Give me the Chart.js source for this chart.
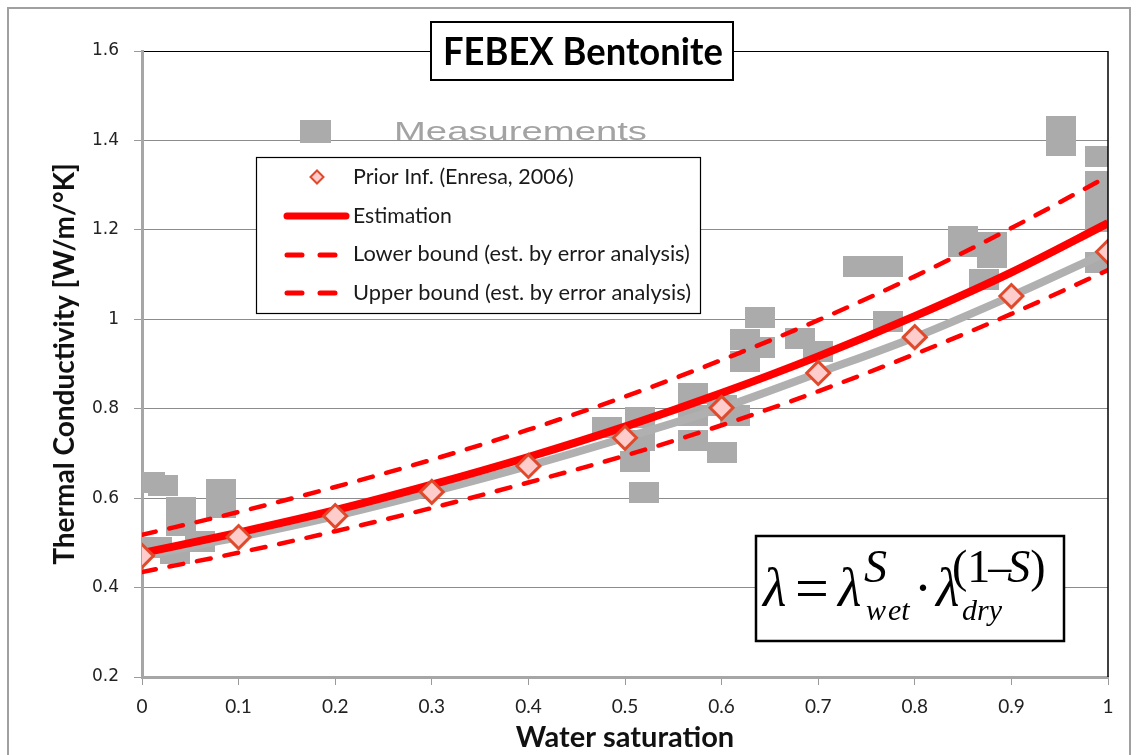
<!DOCTYPE html>
<html>
<head>
<meta charset="utf-8">
<script src="https://cdn.jsdelivr.net/npm/chart.js@4/dist/chart.umd.min.js"></script>
<style>
html, body { margin: 0; padding: 0; background: #fff; }
#wrap { width: 1136px; height: 755px; }
</style>
</head>
<body>
<div id="wrap"><canvas id="febexChart" width="1136" height="755"></canvas></div>
<script>
// water saturation S at which the curves are given
const saturation = [0, 0.1, 0.2, 0.3, 0.4, 0.5, 0.6, 0.7, 0.8, 0.9, 1];
// thermal conductivity curves [W/m/°K]
const priorK     = [0.471, 0.513, 0.560, 0.614, 0.672, 0.735, 0.802, 0.880, 0.960, 1.052, 1.151];
const estimatedK = [0.477, 0.523, 0.573, 0.630, 0.692, 0.760, 0.835, 0.917, 1.007, 1.105, 1.215];
const lowerK     = [0.435, 0.478, 0.526, 0.578, 0.635, 0.695, 0.763, 0.839, 0.922, 1.012, 1.110];
const upperK     = [0.518, 0.569, 0.625, 0.686, 0.753, 0.827, 0.909, 0.998, 1.096, 1.204, 1.320];

// measurements (grey squares)
const measS = [0.008, 0.022, 0.016, 0.034, 0.040, 0.040, 0.060, 0.082, 0.082,
               0.481, 0.516, 0.516, 0.510, 0.520, 0.570, 0.570, 0.570, 0.600, 0.600, 0.614,
               0.624, 0.624, 0.640, 0.640, 0.681, 0.700, 0.741, 0.772, 0.772,
               0.850, 0.850, 0.880, 0.880, 0.872, 0.951, 0.951, 0.992, 0.992, 0.992, 0.992, 0.992];
const measK = [0.636, 0.629, 0.489, 0.477, 0.578, 0.538, 0.504, 0.620, 0.580,
               0.757, 0.781, 0.730, 0.681, 0.612, 0.835, 0.784, 0.730, 0.701, 0.808, 0.784,
               0.954, 0.905, 1.003, 0.936, 0.956, 0.929, 1.119, 1.119, 0.994,
               1.186, 1.162, 1.171, 1.139, 1.090, 1.432, 1.388, 1.363, 1.309, 1.265, 1.218, 1.126];

const xTicks = [0, 0.1, 0.2, 0.3, 0.4, 0.5, 0.6, 0.7, 0.8, 0.9, 1];
const xTickLabels = ['0', '0.1', '0.2', '0.3', '0.4', '0.5', '0.6', '0.7', '0.8', '0.9', '1'];
const yTicks = [0.2, 0.4, 0.6, 0.8, 1, 1.2, 1.4, 1.6];
const yTickLabels = ['0.2', '0.4', '0.6', '0.8', '1', '1.2', '1.4', '1.6'];

const RED = '#ff0000';
const GREY = '#ababab';

function toXY(vals) {
    return saturation.map((s, i) => ({ x: s, y: vals[i] }));
}

// grey measurement marker (Excel square, a bit wider than tall)
const measMarker = document.createElement('canvas');
measMarker.width = 30;
measMarker.height = 21;
const mctx = measMarker.getContext('2d');
mctx.fillStyle = GREY;
mctx.fillRect(0, 0, 30, 21);

// text fitted to a width, stretched to a cap height
function fitText(ctx, text, x, y, width, capH, font, color) {
    ctx.save();
    ctx.font = font.replace('SIZE', '100px');
    const w100 = ctx.measureText(text).width;
    const size = 100 * width / w100;
    ctx.font = font.replace('SIZE', size + 'px');
    ctx.fillStyle = color;
    ctx.textAlign = 'left';
    ctx.textBaseline = 'alphabetic';
    ctx.translate(x, y);
    ctx.scale(1, capH / (0.72 * size));
    ctx.fillText(text, 0, 0);
    ctx.restore();
}

function diamond(ctx, x, y, r, fill, stroke, lw) {
    ctx.beginPath();
    ctx.moveTo(x - r, y);
    ctx.lineTo(x, y - r);
    ctx.lineTo(x + r, y);
    ctx.lineTo(x, y + r);
    ctx.closePath();
    ctx.fillStyle = fill;
    ctx.fill();
    ctx.lineWidth = lw;
    ctx.strokeStyle = stroke;
    ctx.stroke();
}

function legendLine(ctx, x1, x2, y, width, dash) {
    ctx.save();
    ctx.strokeStyle = RED;
    ctx.lineWidth = width;
    ctx.lineCap = 'round';
    ctx.setLineDash(dash);
    ctx.beginPath();
    ctx.moveTo(x1, y);
    ctx.lineTo(x2, y);
    ctx.stroke();
    ctx.restore();
}

const overlays = {
    id: 'overlays',
    beforeDraw(chart) {
        const c = chart.ctx;
        c.save();
        c.fillStyle = '#fff';
        c.fillRect(0, 0, chart.width, chart.height);
        c.restore();
    },
    afterDatasetsDraw(chart) {
        const c = chart.ctx;
        const a = chart.chartArea;
        c.save();
        c.strokeStyle = '#000';
        c.lineWidth = 1.5;
        c.beginPath();
        c.moveTo(a.right, a.top);
        c.lineTo(a.right, a.bottom);
        c.stroke();
        c.restore();
    },
    afterDraw(chart) {
        const c = chart.ctx;
        c.save();

        // outer frame
        c.strokeStyle = '#a0a0a0';
        c.lineWidth = 2;
        c.strokeRect(8, 8, 1122, 760);

        // title box
        c.fillStyle = '#fff';
        c.fillRect(431, 22, 302, 58);
        c.strokeStyle = '#000';
        c.lineWidth = 2;
        c.strokeRect(431, 22, 302, 58);
        fitText(c, 'FEBEX Bentonite', 443, 65, 280, 27, 'bold SIZE Lato', '#000');

        // "Measurements" legend entry
        c.fillStyle = GREY;
        c.fillRect(300, 120, 31, 23);
        fitText(c, 'Measurements', 394, 140, 253, 19, 'SIZE "Liberation Sans"', '#a3a3a3');

        // legend box
        c.fillStyle = '#fff';
        c.fillRect(256, 157, 444, 156);
        c.strokeStyle = '#000';
        c.lineWidth = 1.2;
        c.strokeRect(256.5, 157.5, 444, 156);
        diamond(c, 317, 177, 6.5, '#ffcccc', '#e04a2c', 2);
        legendLine(c, 287, 346, 216, 7, []);
        legendLine(c, 287, 336, 255, 5, [15, 18]);
        legendLine(c, 287, 336, 293, 5, [15, 18]);
        const lf = 'SIZE Lato';
        fitText(c, 'Prior Inf. (Enresa, 2006)', 353, 184, 221, 15, lf, '#1a1a1a');
        fitText(c, 'Estimation', 353, 223, 99, 15, lf, '#1a1a1a');
        fitText(c, 'Lower bound (est. by error analysis)', 353, 261, 337, 15, lf, '#1a1a1a');
        fitText(c, 'Upper bound (est. by error analysis)', 353, 300, 338, 15, lf, '#1a1a1a');

        // formula box
        c.fillStyle = '#fff';
        c.fillRect(756, 536, 308, 105);
        c.strokeStyle = '#000';
        c.lineWidth = 2.5;
        c.strokeRect(756, 536, 308, 105);
        c.fillStyle = '#000';
        c.textBaseline = 'alphabetic';
        c.textAlign = 'left';
        const it = 'italic 54px "Liberation Serif"';
        const up = '54px "Liberation Serif"';
        c.font = it; c.fillText('λ', 763, 606);
        c.font = '60px "Liberation Serif"'; c.fillText('=', 795, 608);
        c.font = it; c.fillText('λ', 838, 606);
        c.font = 'italic 46px "Liberation Serif"'; c.fillText('S', 864, 582);
        c.font = 'italic 30px "Liberation Serif"'; c.fillText('w', 866, 620);
        c.fillText('et', 888, 620);
        c.font = up; c.fillText('·', 914, 606);
        c.font = it; c.fillText('λ', 936, 606);
        let px = 952;
        c.font = '46px "Liberation Serif"'; c.fillText('(1', px, 582); px += c.measureText('(1').width;
        c.fillText('–', px - 2, 582); px += c.measureText('–').width - 6;
        c.font = 'italic 46px "Liberation Serif"'; c.fillText('S', px, 582); px += c.measureText('S').width;
        c.font = '46px "Liberation Serif"'; c.fillText(')', px, 582);
        c.font = 'italic 30px "Liberation Serif"'; c.fillText('dry', 962, 620);

        c.restore();
    }
};

const ctx = document.getElementById('febexChart').getContext('2d');

let febexChart = new Chart(ctx, {
    type: 'scatter',
    data: {
        datasets: [{
            label: 'Measurements',
            data: measS.map((s, i) => ({ x: s, y: measK[i] })),
            pointStyle: measMarker,
            pointRadius: 15,
            showLine: false,
            clip: 0,
            order: 6
        }, {
            label: 'Prior curve',
            data: toXY(priorK),
            showLine: true,
            borderColor: '#b0b0b0',
            borderWidth: 8,
            pointRadius: 0,
            cubicInterpolationMode: 'monotone',
            order: 5
        }, {
            label: 'Lower bound (est. by error analysis)',
            data: toXY(lowerK),
            showLine: true,
            borderColor: RED,
            borderWidth: 4.5,
            borderDash: [14, 14],
            borderCapStyle: 'round',
            pointRadius: 0,
            cubicInterpolationMode: 'monotone',
            order: 4
        }, {
            label: 'Upper bound (est. by error analysis)',
            data: toXY(upperK),
            showLine: true,
            borderColor: RED,
            borderWidth: 4.5,
            borderDash: [14, 14],
            borderCapStyle: 'round',
            pointRadius: 0,
            cubicInterpolationMode: 'monotone',
            order: 3
        }, {
            label: 'Estimation',
            data: toXY(estimatedK),
            showLine: true,
            borderColor: RED,
            borderWidth: 8,
            pointRadius: 0,
            cubicInterpolationMode: 'monotone',
            order: 2
        }, {
            label: 'Prior Inf. (Enresa, 2006)',
            data: toXY(priorK),
            showLine: false,
            pointStyle: 'rectRot',
            pointRadius: 11.5,
            backgroundColor: '#ffcccc',
            borderColor: '#e04a2c',
            pointBorderWidth: 3,
            order: 1
        }]
    },
    options: {
        responsive: false,
        animation: false,
        devicePixelRatio: 1,
        layout: { padding: { top: 51, right: 28, left: 0, bottom: 0 } },
        plugins: {
            legend: { display: false },
            tooltip: { enabled: false }
        },
        scales: {
            x: {
                type: 'linear',
                min: 0,
                max: 1,
                afterBuildTicks: s => { s.ticks = xTicks.map(v => ({ value: v })); },
                afterFit: s => { s.height = 78; },
                ticks: {
                    callback: (v, i) => xTickLabels[i],
                    font: { family: 'Lato', size: 19 },
                    color: '#222',
                    padding: 10,
                    maxRotation: 0,
                    autoSkip: false
                },
                grid: { drawOnChartArea: false, tickLength: 8, tickColor: '#9a9a9a' },
                border: { color: '#a6a6a6', width: 3 },
                title: {
                    display: true,
                    text: 'Water saturation',
                    font: { family: 'Lato', size: 29, weight: 'bold' },
                    color: '#111',
                    padding: { top: 0, bottom: 0 }
                }
            },
            y: {
                min: 0.2,
                max: 1.6,
                afterBuildTicks: s => { s.ticks = yTicks.map(v => ({ value: v })); },
                afterFit: s => { s.width = 142; },
                ticks: {
                    callback: (v, i) => yTickLabels[i],
                    font: { family: 'DejaVu Sans', size: 17 },
                    color: '#222',
                    padding: 15
                },
                grid: {
                    color: c => (c.tick && c.tick.value === 1.6) ? '#000' : '#8c8c8c',
                    tickColor: '#9a9a9a',
                    tickLength: 8,
                    lineWidth: 1
                },
                border: { color: '#a6a6a6', width: 3 },
                title: {
                    display: true,
                    text: 'Thermal Conductivity [W/m/°K]',
                    font: { family: 'Lato', size: 28, weight: 'bold' },
                    color: '#111',
                    padding: { top: 48, bottom: 0 }
                }
            }
        }
    },
    plugins: [overlays]
});
</script>
</body>
</html>
